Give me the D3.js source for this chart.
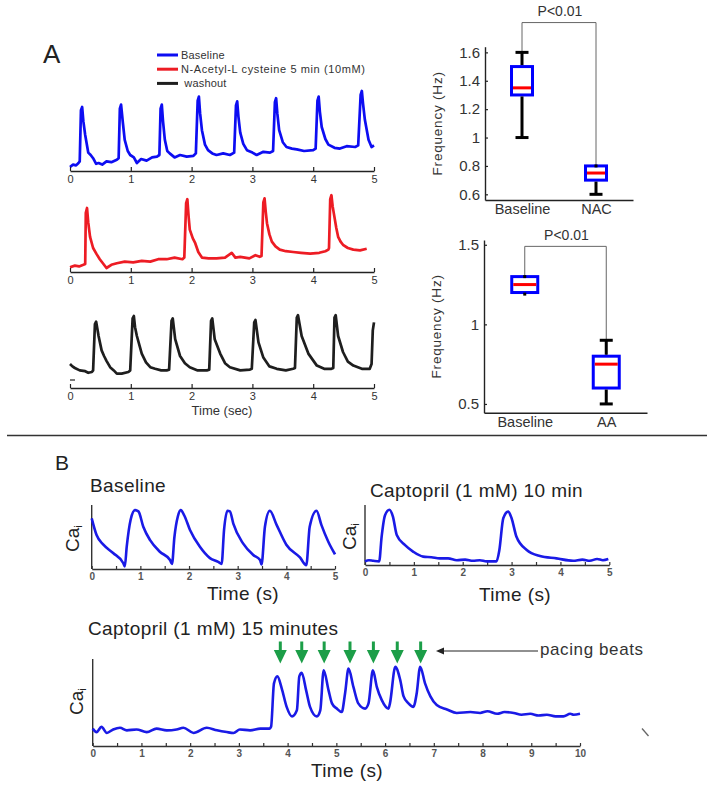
<!DOCTYPE html>
<html>
<head>
<meta charset="utf-8">
<script src="https://cdn.jsdelivr.net/npm/d3@7"></script>
<style>
body { margin: 0; background: #fff; }
svg text { font-family: "Liberation Sans", Arial, sans-serif; }
</style>
</head>
<body>
<script>
// ---------- panel A: Ca traces, [time (s), normalized signal]
var blueA = [[0,0.05],[0.05,0.08],[0.10,0.07],[0.14,0.10],[0.16,0.12],[0.18,0.76],[0.20,0.80],[0.22,0.62],[0.25,0.45],[0.30,0.23],[0.34,0.20],[0.38,0.16],[0.43,0.09],[0.47,0.10],[0.53,0.08],[0.60,0.12],[0.68,0.11],[0.77,0.14],[0.80,0.16],[0.82,0.78],[0.84,0.83],[0.87,0.60],[0.90,0.39],[0.95,0.25],[0.99,0.20],[1.05,0.17],[1.10,0.10],[1.17,0.15],[1.26,0.13],[1.35,0.17],[1.43,0.18],[1.47,0.20],[1.49,0.78],[1.51,0.83],[1.53,0.62],[1.56,0.39],[1.60,0.25],[1.64,0.22],[1.72,0.17],[1.81,0.20],[1.92,0.18],[2.03,0.19],[2.07,0.22],[2.10,0.88],[2.12,0.93],[2.14,0.72],[2.17,0.51],[2.22,0.33],[2.27,0.26],[2.34,0.22],[2.41,0.20],[2.52,0.22],[2.63,0.20],[2.70,0.23],[2.73,0.82],[2.75,0.87],[2.77,0.68],[2.80,0.48],[2.85,0.34],[2.91,0.26],[3.00,0.23],[3.07,0.20],[3.18,0.24],[3.29,0.23],[3.34,0.25],[3.37,0.86],[3.39,0.91],[3.41,0.72],[3.44,0.51],[3.50,0.36],[3.56,0.30],[3.65,0.28],[3.73,0.27],[3.85,0.25],[4.00,0.26],[4.04,0.28],[4.07,0.88],[4.09,0.93],[4.11,0.74],[4.14,0.55],[4.20,0.40],[4.25,0.33],[4.35,0.29],[4.44,0.28],[4.55,0.31],[4.69,0.30],[4.74,0.32],[4.78,0.95],[4.80,1.00],[4.82,0.84],[4.85,0.64],[4.91,0.39],[4.96,0.30],[5.00,0.32]];
var redA = [[0,0.06],[0.08,0.08],[0.15,0.07],[0.22,0.09],[0.25,0.10],[0.26,0.74],[0.28,0.80],[0.30,0.62],[0.33,0.44],[0.38,0.30],[0.44,0.22],[0.49,0.16],[0.55,0.10],[0.60,0.05],[0.68,0.09],[0.77,0.11],[0.90,0.13],[1.04,0.12],[1.18,0.14],[1.32,0.13],[1.45,0.16],[1.59,0.16],[1.72,0.18],[1.85,0.16],[1.88,0.18],[1.91,0.86],[1.93,0.91],[1.95,0.70],[1.97,0.53],[2.02,0.42],[2.06,0.36],[2.11,0.25],[2.17,0.18],[2.28,0.17],[2.41,0.17],[2.55,0.18],[2.66,0.24],[2.72,0.18],[2.80,0.19],[2.95,0.17],[3.05,0.21],[3.12,0.19],[3.15,0.20],[3.18,0.87],[3.20,0.92],[3.22,0.75],[3.24,0.61],[3.28,0.47],[3.32,0.38],[3.38,0.32],[3.45,0.28],[3.55,0.26],[3.67,0.25],[3.80,0.24],[3.95,0.23],[4.10,0.24],[4.20,0.26],[4.25,0.28],[4.26,0.30],[4.28,0.91],[4.30,0.96],[4.32,0.82],[4.34,0.73],[4.38,0.55],[4.41,0.44],[4.45,0.38],[4.49,0.34],[4.57,0.30],[4.66,0.28],[4.77,0.27],[4.88,0.29]];
var blackA = [[0,0.30],[0.04,0.27],[0.08,0.25],[0.16,0.22],[0.25,0.21],[0.30,0.19],[0.36,0.20],[0.38,0.22],[0.41,0.80],[0.43,0.83],[0.45,0.74],[0.47,0.65],[0.52,0.47],[0.56,0.40],[0.60,0.34],[0.66,0.26],[0.72,0.22],[0.77,0.18],[0.85,0.18],[0.96,0.20],[0.99,0.22],[1.03,0.87],[1.05,0.90],[1.07,0.76],[1.10,0.65],[1.18,0.43],[1.25,0.32],[1.32,0.26],[1.40,0.24],[1.50,0.22],[1.59,0.22],[1.63,0.23],[1.67,0.84],[1.69,0.87],[1.73,0.61],[1.81,0.40],[1.89,0.31],[1.97,0.26],[2.10,0.22],[2.25,0.22],[2.29,0.23],[2.32,0.84],[2.34,0.87],[2.38,0.61],[2.47,0.43],[2.55,0.31],[2.63,0.26],[2.80,0.22],[2.96,0.23],[2.99,0.24],[3.03,0.82],[3.05,0.85],[3.10,0.57],[3.18,0.38],[3.28,0.27],[3.40,0.24],[3.55,0.22],[3.67,0.24],[3.70,0.25],[3.73,0.88],[3.75,0.91],[3.81,0.65],[3.92,0.43],[4.06,0.28],[4.18,0.24],[4.30,0.24],[4.33,0.25],[4.35,0.88],[4.37,0.91],[4.41,0.65],[4.49,0.45],[4.57,0.33],[4.66,0.28],[4.80,0.24],[4.93,0.24],[4.96,0.30],[4.98,0.72],[5.00,0.82]];
var legendLabels = ["Baseline", "N-Acetyl-L cysteine 5 min (10mM)", " washout"];
var legendColors = ["#0d0df2", "#ed1c24", "#1e1e1e"];
var ticksA = [0, 1, 2, 3, 4, 5];

// ---------- box plots: [low whisker, q1, median, q3, high whisker]
var nacGroups = ["Baseline", "NAC"];
var nacStats = [[1.0, 1.3, 1.35, 1.5, 1.6], [0.6, 0.7, 0.75, 0.8, 0.8]];
var nacTicks = [0.6, 0.8, 1, 1.2, 1.4, 1.6];
var aaGroups = ["Baseline", "AA"];
var aaStats = [[1.19, 1.2, 1.25, 1.3, 1.3], [0.5, 0.6, 0.75, 0.8, 0.9]];
var aaTicks = [0.5, 1, 1.5];
var pLabels = ["P<0.01", "P<0.01"];
var sigLevels = [1.81, 1.49];

// ---------- panel B: Ca_i traces
var baseB = [[0,0.79],[0.10,0.53],[0.24,0.38],[0.44,0.25],[0.65,0.09],[0.68,0.04],[0.72,0.35],[0.80,0.77],[0.89,0.92],[0.96,0.90],[1.06,0.66],[1.20,0.45],[1.40,0.27],[1.61,0.14],[1.65,0.08],[1.70,0.50],[1.77,0.82],[1.83,0.92],[1.90,0.84],[2.02,0.61],[2.22,0.35],[2.43,0.17],[2.60,0.11],[2.67,0.08],[2.72,0.61],[2.79,0.91],[2.84,0.90],[2.91,0.71],[3.11,0.40],[3.32,0.22],[3.46,0.14],[3.49,0.07],[3.56,0.66],[3.66,0.91],[3.80,0.69],[4.00,0.38],[4.28,0.18],[4.41,0.06],[4.48,0.66],[4.62,0.91],[4.72,0.69],[4.86,0.43],[5.00,0.23]];
var capto10B = [[0,0.06],[0.08,0.08],[0.17,0.07],[0.29,0.06],[0.34,0.47],[0.41,0.83],[0.50,0.92],[0.57,0.81],[0.65,0.50],[0.82,0.33],[0.99,0.22],[1.19,0.14],[1.36,0.13],[1.53,0.11],[1.70,0.11],[1.88,0.08],[2.05,0.09],[2.21,0.07],[2.35,0.08],[2.49,0.06],[2.69,0.06],[2.75,0.25],[2.83,0.78],[2.93,0.89],[3.00,0.78],[3.10,0.47],[3.31,0.25],[3.58,0.15],[3.92,0.11],[4.26,0.07],[4.45,0.09],[4.60,0.07],[4.75,0.10],[4.87,0.08],[4.98,0.10]];
var capto15B = [[0,0.20],[0.08,0.16],[0.18,0.22],[0.29,0.15],[0.42,0.19],[0.56,0.21],[0.70,0.18],[0.90,0.19],[1.11,0.16],[1.31,0.20],[1.52,0.18],[1.72,0.19],[1.86,0.21],[2.07,0.15],[2.34,0.21],[2.55,0.18],[2.75,0.16],[2.89,0.15],[3.02,0.19],[3.23,0.18],[3.44,0.20],[3.63,0.20],[3.66,0.22],[3.72,0.72],[3.79,0.80],[3.88,0.66],[3.98,0.45],[4.09,0.34],[4.19,0.41],[4.24,0.80],[4.29,0.84],[4.38,0.64],[4.46,0.45],[4.60,0.34],[4.67,0.41],[4.74,0.87],[4.84,0.64],[4.91,0.49],[5.01,0.43],[5.11,0.39],[5.18,0.61],[5.25,0.89],[5.35,0.68],[5.45,0.49],[5.59,0.43],[5.66,0.49],[5.75,0.87],[5.83,0.68],[5.93,0.53],[6.07,0.43],[6.10,0.49],[6.21,0.91],[6.31,0.76],[6.38,0.57],[6.48,0.49],[6.58,0.45],[6.65,0.61],[6.72,0.91],[6.82,0.72],[6.93,0.57],[7.06,0.47],[7.27,0.42],[7.47,0.38],[7.75,0.39],[7.95,0.38],[8.10,0.40],[8.30,0.37],[8.45,0.39],[8.64,0.38],[8.80,0.36],[8.98,0.37],[9.15,0.35],[9.32,0.36],[9.50,0.34],[9.66,0.34],[9.80,0.37],[9.87,0.36],[10.0,0.37]];
var pacingTimes = [3.85, 4.29, 4.75, 5.28, 5.76, 6.25, 6.73];
var bTitles = ["Baseline", "Captopril (1 mM) 10 min", "Captopril (1 mM) 15 minutes"];

var svg = d3.select("body").append("svg")
    .attr("width", 714)
    .attr("height", 790);

function styleAxis(ax, col) {
  ax.select(".domain").attr("stroke", col).attr("stroke-width", 1.4);
  ax.selectAll(".tick line").attr("stroke", col).attr("stroke-width", 1.2);
}

// ================= panel A traces =================
svg.append("text").attr("x", 43).attr("y", 63)
  .style("font-size", "26px").attr("fill", "#222").text("A");

function traceA(data, color, yBase) {
  var x = d3.scaleLinear().domain([0, 5]).range([70, 374]);
  var y = d3.scaleLinear().domain([0, 1]).range([yBase, yBase - 80]);
  var g = svg.append("g");
  g.append("path").datum(data)
    .attr("fill", "none").attr("stroke", color)
    .attr("stroke-width", 2.7).attr("stroke-linejoin", "round")
    .attr("d", d3.line()
      .x(function(d) { return x(d[0]); })
      .y(function(d) { return y(d[1]); }));
  var ax = g.append("g").attr("transform", "translate(0," + yBase + ")")
    .call(d3.axisBottom(x).tickValues(ticksA).tickFormat(d3.format("d"))
      .tickSize(-4).tickSizeOuter(0).tickPadding(4));
  ax.selectAll("text").style("font-size", "11px").attr("fill", "#333");
  styleAxis(ax, "#222");
  return y;
}

traceA(blueA, legendColors[0], 171);
traceA(redA, legendColors[1], 272);
var yBlack = traceA(blackA, legendColors[2], 388);
// small y tick stub left on the washout trace
svg.append("line").attr("x1", 70).attr("x2", 75)
  .attr("y1", yBlack(0.1)).attr("y2", yBlack(0.1))
  .attr("stroke", "#222").attr("stroke-width", 1.2);

svg.append("text").attr("x", 222).attr("y", 415).attr("text-anchor", "middle")
  .style("font-size", "13px").attr("fill", "#333").text("Time (sec)");

// legend
var leg = svg.append("g").selectAll("g").data(legendLabels).enter().append("g")
  .attr("transform", function(d, i) { return "translate(157," + (55 + i * 14.2) + ")"; });
leg.append("line").attr("x1", 0).attr("x2", 21)
  .attr("stroke", function(d, i) { return legendColors[i]; }).attr("stroke-width", 3);
leg.append("text").attr("x", 24).attr("y", 4)
  .style("font-size", "11px").style("white-space", "pre").attr("fill", "#333")
  .style("letter-spacing", function(d, i) { return i === 1 ? "0.6px" : "0.2px"; })
  .text(function(d) { return d; });

// ================= box plots =================
function boxPanel(groups, stats, ticks, yDom, yRng, xRng, boxW, sig, pLab) {
  var x = d3.scalePoint().domain(groups).range(xRng).padding(0.5);
  var y = d3.scaleLinear().domain(yDom).range(yRng);
  var g = svg.append("g");

  var ay = g.append("g").attr("transform", "translate(" + xRng[0] + ",0)")
    .call(d3.axisLeft(y).tickValues(ticks).tickFormat(d3.format("")).tickSize(-3).tickSizeOuter(0).tickPadding(5));
  ay.selectAll("text").style("font-size", "15px").attr("fill", "#333");
  styleAxis(ay, "#222");

  var ax = g.append("g").attr("transform", "translate(0," + yRng[0] + ")")
    .call(d3.axisBottom(x).tickSize(0).tickPadding(4));
  ax.selectAll("text").style("font-size", "14.5px").attr("fill", "#333");
  styleAxis(ax, "#222");

  g.append("text")
    .attr("transform", "translate(" + (xRng[0] - 48) + "," + ((yRng[0] + yRng[1]) / 2) + ") rotate(-90)")
    .attr("text-anchor", "middle").attr("dy", "0.35em")
    .style("font-size", "13.5px").style("letter-spacing", "0.8px").attr("fill", "#333")
    .text("Frequency (Hz)");

  // significance bracket
  var top = y(sig);
  var xa = x(groups[0]), xb = x(groups[1]);
  g.append("path").attr("fill", "none").attr("stroke", "#666").attr("stroke-width", 1)
    .attr("d", "M" + xa + "," + y(stats[0][4]) + "V" + top + "H" + xb + "V" + y(stats[1][3]));
  g.append("text").attr("x", (xa + xb) / 2 + 1).attr("y", top - 6.5).attr("text-anchor", "middle")
    .style("font-size", "14px").attr("fill", "#333").text(pLab);

  groups.forEach(function(gr, i) {
    var s = stats[i], cx = x(gr);
    // box
    g.append("rect").attr("x", cx - boxW / 2).attr("y", y(s[3]))
      .attr("width", boxW).attr("height", y(s[1]) - y(s[3]))
      .attr("fill", "#fff").attr("stroke", "#0000ff").attr("stroke-width", 3);
    g.append("line").attr("x1", cx - boxW / 2 + 1.5).attr("x2", cx + boxW / 2 - 1.5)
      .attr("y1", y(s[2])).attr("y2", y(s[2]))
      .attr("stroke", "#ff0000").attr("stroke-width", 3);
    // whiskers
    [[s[0], s[1]], [s[4], s[3]]].forEach(function(w) {
      var capW = Math.abs(y(w[0]) - y(w[1])) > 3 ? 13 : 3;
      if (capW > 3) {
        g.append("line").attr("x1", cx).attr("x2", cx)
          .attr("y1", y(w[0])).attr("y2", y(w[1]) + (w[0] < w[1] ? 1.5 : -1.5))
          .attr("stroke", "#000").attr("stroke-width", 3);
      }
      g.append("line").attr("x1", cx - capW / 2).attr("x2", cx + capW / 2)
        .attr("y1", y(w[0])).attr("y2", y(w[0]))
        .attr("stroke", "#000").attr("stroke-width", 3);
    });
  });
}

boxPanel(nacGroups, nacStats, nacTicks, [0.56, 1.64], [200, 46.7], [485, 633], 21, sigLevels[0], pLabels[0]);
boxPanel(aaGroups, aaStats, aaTicks, [0.445, 1.53], [412.7, 240], [484, 647], 26, sigLevels[1], pLabels[1]);

// separator between panels
svg.append("line").attr("x1", 7).attr("x2", 707).attr("y1", 435.5).attr("y2", 435.5)
  .attr("stroke", "#333").attr("stroke-width", 1.5);

// ================= panel B =================
svg.append("text").attr("x", 55).attr("y", 470)
  .style("font-size", "21px").attr("fill", "#222").text("B");

function traceB(data, tMax, xRng, yBase, yTop, title, titlePos, timePos, caPos) {
  var x = d3.scaleLinear().domain([0, tMax]).range(xRng);
  var y = d3.scaleLinear().domain([0, 1]).range([yBase, yTop]);
  var g = svg.append("g");
  g.append("line").attr("x1", xRng[0]).attr("x2", xRng[0]).attr("y1", yBase).attr("y2", yTop)
    .attr("stroke", "#333").attr("stroke-width", 1.4);
  var ax = g.append("g").attr("transform", "translate(0," + yBase + ")")
    .call(d3.axisBottom(x).tickValues(d3.range(0, tMax + 0.01, 0.5))
      .tickFormat(function(d) { return d % 1 === 0 ? d : ""; })
      .tickSize(-3).tickSizeOuter(0).tickPadding(4));
  ax.selectAll("text").style("font-size", "10px").style("font-weight", "bold").attr("fill", "#555");
  styleAxis(ax, "#333");
  g.append("path").datum(data)
    .attr("fill", "none").attr("stroke", "#1a1ae6")
    .attr("stroke-width", 2.6).attr("stroke-linejoin", "round")
    .attr("d", d3.line().curve(d3.curveMonotoneX)
      .x(function(d) { return x(d[0]); })
      .y(function(d) { return y(d[1]); }));
  g.append("text").attr("x", titlePos[0]).attr("y", titlePos[1])
    .style("font-size", "19px").style("letter-spacing", "0.4px").attr("fill", "#222").text(title);
  g.append("text").attr("x", timePos[0]).attr("y", timePos[1]).attr("text-anchor", "middle")
    .style("font-size", "19px").style("letter-spacing", "0.4px").attr("fill", "#222").text("Time (s)");
  var ca = g.append("text")
    .attr("transform", "translate(" + caPos[0] + "," + caPos[1] + ") rotate(-90)")
    .style("font-size", "19px").attr("fill", "#222");
  ca.append("tspan").text("Ca");
  ca.append("tspan").attr("dy", "0.3em").style("font-size", "11px").text("i");
  return x;
}

traceB(baseB, 5, [91.7, 335], 569, 505, bTitles[0], [90, 492], [243, 600], [79, 552]);
traceB(capto10B, 5, [365, 609.3], 565, 505, bTitles[1], [370, 497], [515, 601], [356, 550]);
var x15 = traceB(capto15B, 10, [92.7, 580], 746, 659, bTitles[2], [88, 635], [347, 777], [83, 715]);

// green pacing arrows
svg.append("g").selectAll("path").data(pacingTimes).enter().append("path")
  .attr("fill", "#1c9e48")
  .attr("d", function(t) {
    var cx = x15(t);
    return "M" + (cx - 1.5) + ",641.5V650H" + (cx - 6.5) + "L" + cx + ",663.5L" + (cx + 6.5) + ",650H" + (cx + 1.5) + "V641.5Z";
  });

// "pacing beats" pointer
svg.append("line").attr("x1", 538).attr("x2", 441).attr("y1", 651).attr("y2", 651)
  .attr("stroke", "#222").attr("stroke-width", 1.2);
svg.append("path").attr("fill", "#222")
  .attr("d", "M436,651L444,647.5L444,654.5Z");
svg.append("text").attr("x", 540).attr("y", 655)
  .style("font-size", "17px").style("letter-spacing", "0.6px").attr("fill", "#333").text("pacing beats");

// stray tick mark in the original figure
svg.append("line").attr("x1", 642).attr("y1", 728.5).attr("x2", 648.5).attr("y2", 736)
  .attr("stroke", "#666").attr("stroke-width", 1.3);
</script>
</body>
</html>
